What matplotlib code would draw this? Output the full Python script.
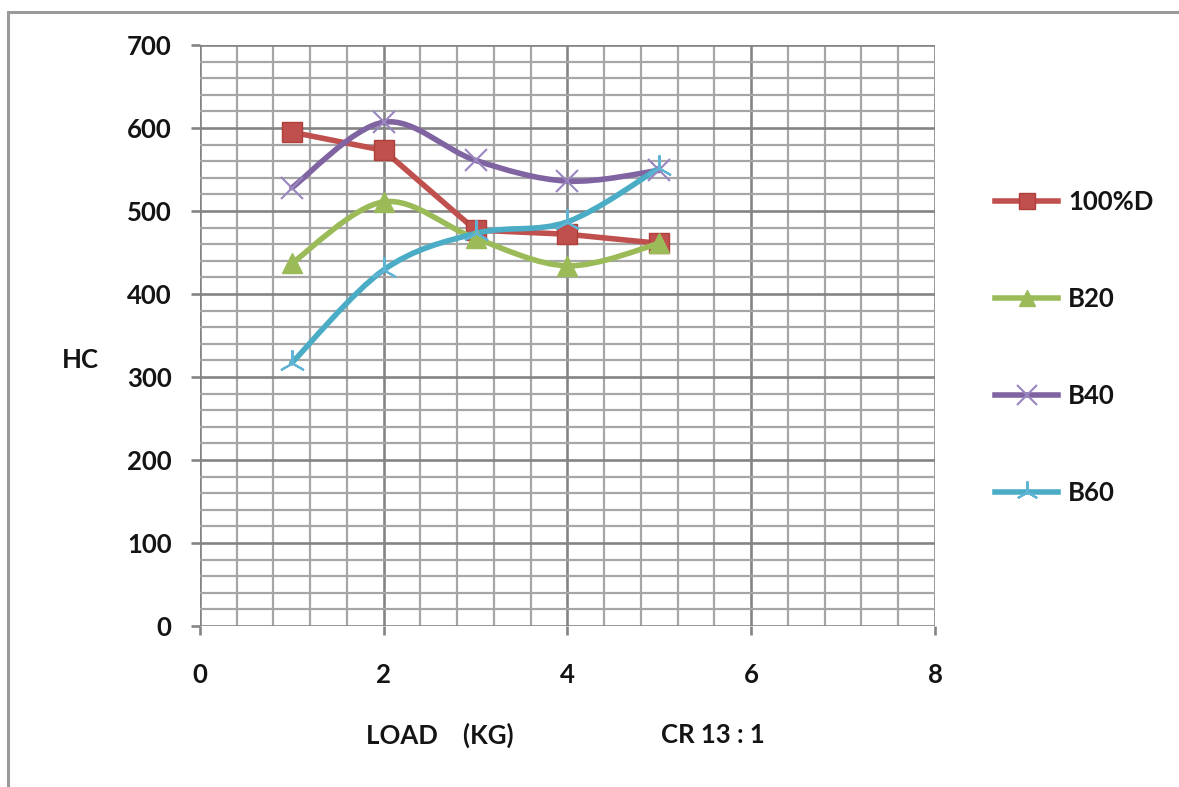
import numpy as np
import matplotlib
matplotlib.use("Agg")
import matplotlib.pyplot as plt
from matplotlib.path import Path
from matplotlib.patches import PathPatch
from matplotlib.lines import Line2D
from matplotlib.ticker import MultipleLocator

load = [1, 2, 3, 4, 5]
hc_100d = [595, 573, 477, 472, 461]
hc_b20 = [437, 511, 467, 434, 461]
hc_b40 = [528, 607, 561, 536, 549]
hc_b60 = [317, 429, 473, 487, 552]

series_names = ["100%D", "B20", "B40", "B60"]

plt.rcParams['font.family'] = ['Lato', 'DejaVu Sans']
plt.rcParams['font.weight'] = 'bold'

FS = 18.5
TXT = '#141414'


def smooth_path(xs, ys):
    # Excel-style smoothed line: cubic bezier through the points
    pts = np.column_stack([xs, ys]).astype(float)
    n = len(pts)
    verts = [pts[0]]
    codes = [Path.MOVETO]
    for i in range(n - 1):
        p0 = pts[i - 1] if i > 0 else pts[i]
        p1 = pts[i]
        p2 = pts[i + 1]
        p3 = pts[i + 2] if i + 2 < n else pts[i + 1]
        c1 = p1 + (p2 - p0) / 6.0
        c2 = p2 - (p3 - p1) / 6.0
        verts += [c1, c2, p2]
        codes += [Path.CURVE4] * 3
    return Path(verts, codes)


fig = plt.figure(figsize=(11.79, 7.87), dpi=100)
ax = fig.add_axes([0.1696, 0.2046, 0.6234, 0.7382])

ax.set_xlim(0, 8)
ax.set_ylim(0, 700)
ax.xaxis.set_major_locator(MultipleLocator(2))
ax.xaxis.set_minor_locator(MultipleLocator(0.4))
ax.yaxis.set_major_locator(MultipleLocator(100))
ax.yaxis.set_minor_locator(MultipleLocator(20))
ax.grid(which='major', color='#848484', linewidth=1.9)
ax.grid(which='minor', color='#a6a6a6', linewidth=1.6)
ax.set_axisbelow(True)
for s in ax.spines.values():
    s.set_visible(False)
ax.tick_params(which='minor', length=0)
ax.tick_params(which='major', length=6.5, width=1.9, color='#848484',
               labelsize=FS, labelcolor=TXT)
ax.tick_params(axis='x', pad=20)
ax.tick_params(axis='y', pad=14)
for lbl in ax.get_xticklabels() + ax.get_yticklabels():
    lbl.set_fontweight('bold')

lw = 4
# 100%D : straight segments
ax.plot(load, hc_100d, color='#C0504D', linewidth=lw, marker='s', markersize=15,
        markerfacecolor='#C0504D', markeredgecolor='#B03F3C', zorder=3)

styles = [
    (hc_b20, '#9BBB59', dict(marker='^', markersize=15, markerfacecolor='#9BBB59',
                              markeredgecolor='#9BBB59')),
    (hc_b40, '#8064A2', dict(marker='x', markersize=16, markeredgewidth=1.5,
                              markeredgecolor='#9A86BF')),
    (hc_b60, '#4BACC6', dict(marker=(3, 2, 0), markersize=19, markeredgewidth=1.5,
                              markeredgecolor='#5FB4D6')),
]
for ys, col, mk in styles:
    ax.add_patch(PathPatch(smooth_path(load, ys), facecolor='none', edgecolor=col,
                           linewidth=lw, capstyle='round', joinstyle='round', zorder=3))
    ax.plot(load, ys, linestyle='none', zorder=4, **mk)

# legend
handles = [
    Line2D([], [], color='#C0504D', linewidth=lw, marker='s', markersize=12,
           markeredgecolor='#B03F3C'),
    Line2D([], [], color='#9BBB59', linewidth=lw, marker='^', markersize=12),
    Line2D([], [], color='#8064A2', linewidth=lw, marker='x', markersize=14,
           markeredgewidth=1.5, markeredgecolor='#9A86BF'),
    Line2D([], [], color='#4BACC6', linewidth=lw, marker=(3, 2, 0), markersize=16,
           markeredgewidth=1.5, markeredgecolor='#5FB4D6'),
]
leg = fig.legend(handles, series_names, loc='center left', bbox_to_anchor=(0.844, 0.5585),
                 frameon=False, fontsize=FS, labelspacing=2.83, handlelength=2.45,
                 handletextpad=0.4, borderpad=0, borderaxespad=0)
for t in leg.get_texts():
    t.set_fontweight('bold')
    t.set_color(TXT)

fig.text(0.0526, 0.5426, "HC", fontsize=FS, fontweight='bold', color=TXT,
         ha='left', va='center')
fig.text(0.373, 0.0661, "LOAD    (KG)", fontsize=FS, fontweight='bold', color=TXT,
         ha='center', va='center')
fig.text(0.605, 0.0661, "CR 13 : 1", fontsize=FS, fontweight='bold', color=TXT,
         ha='center', va='center')

# outer chart frame (top and left edges visible)
fig.add_artist(Line2D([0.0072, 1.0], [0.9848, 0.9848], transform=fig.transFigure,
                      color='#9a9a9a', linewidth=2.2))
fig.add_artist(Line2D([0.0072, 0.0072], [0.0, 0.9848], transform=fig.transFigure,
                      color='#9a9a9a', linewidth=2.2))

fig.savefig("out.png", dpi=100, facecolor='white')
